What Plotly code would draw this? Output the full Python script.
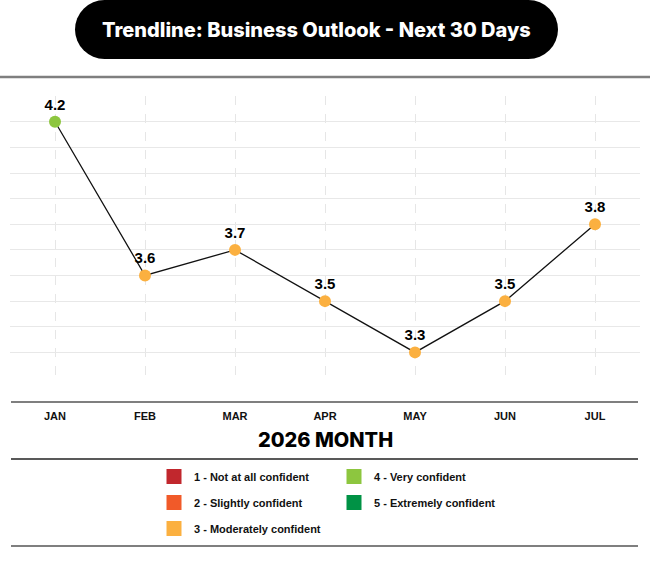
import plotly.graph_objects as go
import math

# ---------------- data ----------------
months = ["JAN", "FEB", "MAR", "APR", "MAY", "JUN", "JUL"]
outlook = [4.2, 3.6, 3.7, 3.5, 3.3, 3.5, 3.8]

levels = [1, 2, 3, 4, 5]
level_names = ["1 - Not at all confident", "2 - Slightly confident",
               "3 - Moderately confident", "4 - Very confident",
               "5 - Extremely confident"]
level_colors = ["#c1272d", "#f15a29", "#fbb040", "#8dc63f", "#009245"]

title_text = "Trendline: Business Outlook - Next 30 Days"
x_title = "2026 MONTH"

# ---------------- geometry ----------------
W, H = 650, 575
M_L, M_R, M_T, M_B = 10, 10, 96, 197
PW = W - M_L - M_R
PH = H - M_T - M_B


def px2x(xp):
    return (xp - M_L) / PW


def px2y(yp):
    return (H - M_B - yp) / PH


point_colors = [level_colors[int(math.floor(v)) - 1] for v in outlook]

fig = go.Figure()
fig.add_trace(go.Scatter(
    x=months, y=outlook, mode="lines+markers+text",
    line=dict(color="#111111", width=1.3),
    marker=dict(size=12, color=point_colors, line=dict(width=0)),
    text=[f"{v:.1f}" for v in outlook], textposition="top center",
    textfont=dict(family="Liberation Sans", size=15, color="#000000", weight="bold"),
    showlegend=False, hoverinfo="skip", cliponaxis=False,
))

# legend entries (two columns)
for lv, name, col in zip(levels, level_names, level_colors):
    fig.add_trace(go.Scatter(
        x=[None], y=[None], mode="markers", name=name,
        marker=dict(symbol="square", size=15, color=col),
        legend="legend" if lv <= 3 else "legend2",
        legendgroup=f"g{lv}", showlegend=True,
    ))

shapes = []
# grey rule under the title
shapes.append(dict(type="line", xref="paper", yref="paper",
                   x0=px2x(0), x1=px2x(650), y0=px2y(77), y1=px2y(77),
                   line=dict(color="#7f7f7f", width=2.5)))
# x axis line and separators
for yp, c in [(402, "#555555"), (459, "#222222"), (546, "#555555")]:
    shapes.append(dict(type="line", xref="paper", yref="paper",
                       x0=px2x(11), x1=px2x(638), y0=px2y(yp), y1=px2y(yp),
                       line=dict(color=c, width=1.6)))
# title pill
pl, pr, pt, pb = 75, 558, 0, 59
r = (pb - pt) / 2
shapes.append(dict(type="rect", xref="paper", yref="paper",
                   x0=px2x(pl + r), x1=px2x(pr - r), y0=px2y(pb), y1=px2y(pt),
                   fillcolor="#000000", line=dict(width=0)))
for cx0 in (pl, pr - 2 * r):
    shapes.append(dict(type="circle", xref="paper", yref="paper",
                       x0=px2x(cx0), x1=px2x(cx0 + 2 * r), y0=px2y(pb), y1=px2y(pt),
                       fillcolor="#000000", line=dict(width=0)))

annotations = [
    dict(text=title_text, xref="paper", yref="paper", x=px2x(316), y=px2y(30),
         xanchor="center", yanchor="middle", showarrow=False,
         font=dict(family="Inter", size=20, color="#ffffff", weight=800)),
    dict(text=x_title, xref="paper", yref="paper", x=px2x(325), y=px2y(440),
         xanchor="center", yanchor="middle", showarrow=False,
         font=dict(family="Inter", size=20, color="#000000", weight=800)),
]

legend_font = dict(family="Liberation Sans", size=11, color="#111111", weight="bold")

fig.update_layout(
    width=W, height=H,
    margin=dict(l=M_L, r=M_R, t=M_T, b=M_B),
    paper_bgcolor="#ffffff", plot_bgcolor="#ffffff",
    shapes=shapes, annotations=annotations,
    xaxis=dict(type="category", categoryorder="array", categoryarray=months,
               range=[-0.5, 6.5], showgrid=True, gridcolor="#e6e6e6",
               griddash="dash", gridwidth=1, showline=False, zeroline=False,
               ticks="", ticklabelstandoff=30,
               tickfont=dict(family="Liberation Sans", size=11, color="#111111",
                             weight="bold")),
    yaxis=dict(range=[3.2, 4.3005], tick0=3.2, dtick=0.1, showgrid=True,
               gridcolor="#e8e8e8", gridwidth=1.2, showticklabels=False,
               zeroline=False, showline=False, ticks=""),
    legend=dict(x=px2x(154), y=px2y(462), xanchor="left", yanchor="top",
                xref="paper", yref="paper", font=legend_font,
                bgcolor="rgba(0,0,0,0)", tracegroupgap=7, itemsizing="trace",
                traceorder="grouped"),
    legend2=dict(x=px2x(334), y=px2y(462), xanchor="left", yanchor="top",
                 xref="paper", yref="paper", font=legend_font,
                 bgcolor="rgba(0,0,0,0)", tracegroupgap=7, itemsizing="trace",
                 traceorder="grouped"),
    hovermode=False,
)

fig.write_html("out.html", config={"displayModeBar": False},
               post_script="document.body.style.margin='0px';document.body.style.overflow='hidden';")
